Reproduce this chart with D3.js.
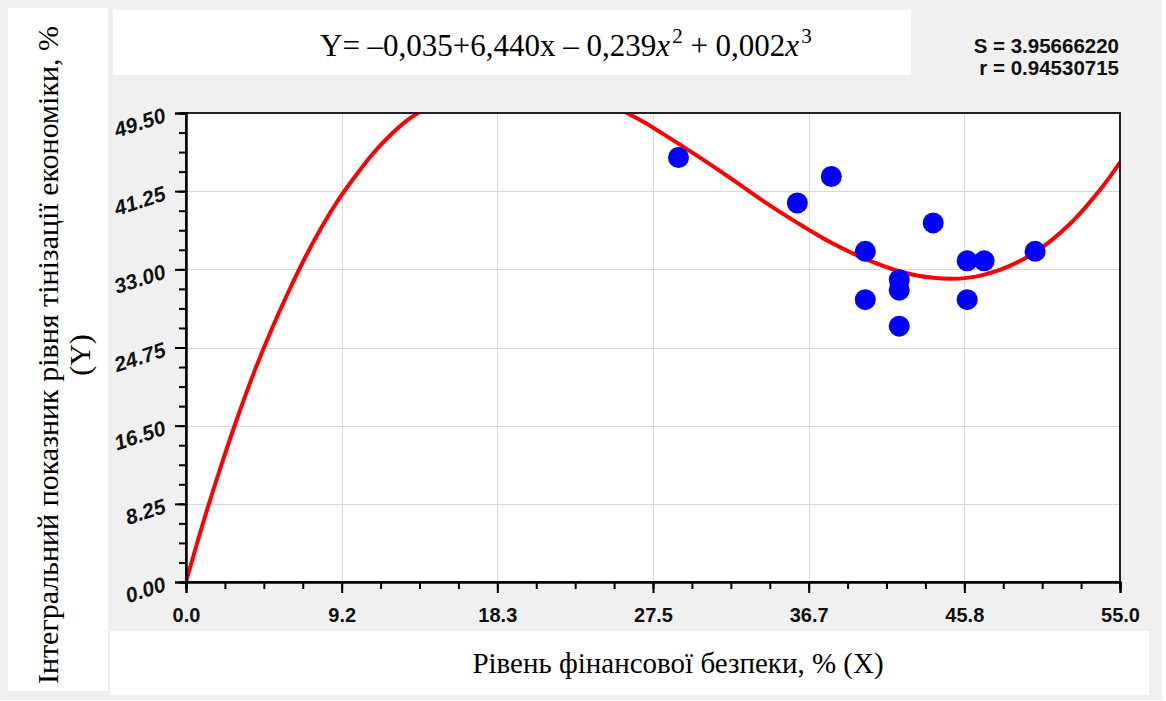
<!DOCTYPE html>
<html>
<head>
<meta charset="utf-8">
<script src="https://cdn.jsdelivr.net/npm/d3@7"></script>
<style>
  html, body { margin: 0; padding: 0; background: #ffffff; }
  svg { display: block; }
</style>
</head>
<body>
<svg id="chart" width="1166" height="701"></svg>
<script>
// ---------------- data ----------------
const pointsX = [29.0, 36.0, 38.0, 40.0, 40.0, 42.0, 42.0, 42.0, 44.0, 46.0, 47.0, 46.0, 50.0];
const pointsY = [44.8, 40.0, 42.8, 34.9, 29.8, 31.9, 30.8, 27.0, 37.9, 33.9, 33.9, 29.8, 34.9];

// fitted curve (left branch and right branch; it leaves the top of the frame between them)
const curveLeftX  = [0, 1, 2, 3, 4, 5, 6, 7, 8, 9, 10, 11, 12, 13, 13.66];
const curveLeftY  = [0, 6.2, 11.9, 17.2, 22.1, 26.5, 30.5, 34.2, 37.5, 40.4, 42.9, 45.2, 47.1, 48.7, 49.5];
const curveRightX = [25.97, 27, 28, 30, 32, 34, 36, 38, 40, 42, 44, 46, 48, 50, 52, 54, 55];
const curveRightY = [49.5, 48.5, 47.4, 45.1, 42.7, 40.2, 37.9, 35.8, 34.1, 32.8, 32.1, 32.1, 33.0, 34.8, 37.7, 41.8, 44.3];

const xTickValues = [0, 9.1667, 18.3333, 27.5, 36.6667, 45.8333, 55.0];
const xTickLabels = ["0.0", "9.2", "18.3", "27.5", "36.7", "45.8", "55.0"];
const yTickValues = [0, 8.25, 16.5, 24.75, 33.0, 41.25, 49.5];
const yTickLabels = ["0.00", "8.25", "16.50", "24.75", "33.00", "41.25", "49.50"];

const titleText = "Y= \u20130,035+6,440x \u2013 0,239";
const statS = "S = 3.95666220";
const statR = "r = 0.94530715";
const xTitle = "Рівень фінансової безпеки, % (X)";
const yTitle1 = "Інтегральний показник рівня тінізації економіки, %";
const yTitle2 = "(Y)";

// ---------------- layout ----------------
const svg = d3.select("#chart");
const W = 1166, H = 701;
const plot = { left: 186, right: 1120, top: 113, bottom: 582 };

const x = d3.scaleLinear().domain([0, 55]).range([plot.left, plot.right]);
const y = d3.scaleLinear().domain([0, 49.5]).range([plot.bottom, plot.top]);

// backgrounds
svg.append("rect").attr("x", 0).attr("y", 0).attr("width", W).attr("height", H).attr("fill", "#ffffff");
svg.append("rect").attr("x", 0).attr("y", 0).attr("width", 1162).attr("height", 700).attr("fill", "#f0f0f0");
svg.append("rect").attr("x", 8).attr("y", 8).attr("width", 100).attr("height", 683).attr("fill", "#ffffff");
svg.append("rect").attr("x", 113).attr("y", 10).attr("width", 798).attr("height", 65).attr("fill", "#ffffff");
svg.append("rect").attr("x", 110).attr("y", 631).attr("width", 1039).attr("height", 64).attr("fill", "#ffffff");

// plot background
svg.append("rect")
  .attr("x", plot.left).attr("y", plot.top)
  .attr("width", plot.right - plot.left).attr("height", plot.bottom - plot.top)
  .attr("fill", "#ffffff");

// grid
const grid = svg.append("g").attr("stroke", "#d9d9d9").attr("stroke-width", 1);
xTickValues.slice(1, -1).forEach(v => {
  grid.append("line").attr("x1", Math.round(x(v)) + 0.5).attr("x2", Math.round(x(v)) + 0.5)
    .attr("y1", plot.top).attr("y2", plot.bottom);
});
yTickValues.slice(1, -1).forEach(v => {
  grid.append("line").attr("y1", Math.round(y(v)) + 0.5).attr("y2", Math.round(y(v)) + 0.5)
    .attr("x1", plot.left).attr("x2", plot.right);
});

// clip
svg.append("clipPath").attr("id", "clip").append("rect")
  .attr("x", plot.left).attr("y", plot.top)
  .attr("width", plot.right - plot.left).attr("height", plot.bottom - plot.top);

// curve
const line = d3.line().x(d => x(d[0])).y(d => y(d[1])).curve(d3.curveCatmullRom);
const curveG = svg.append("g").attr("clip-path", "url(#clip)");
[[curveLeftX, curveLeftY], [curveRightX, curveRightY]].forEach(([xs, ys]) => {
  curveG.append("path")
    .attr("d", line(xs.map((v, i) => [v, ys[i]])))
    .attr("fill", "none").attr("stroke", "#ff0000").attr("stroke-width", 4)
    .attr("stroke-linecap", "round").attr("stroke-linejoin", "round");
});

// points
svg.append("g").selectAll("circle")
  .data(pointsX.map((v, i) => [v, pointsY[i]]))
  .join("circle")
  .attr("cx", d => x(d[0])).attr("cy", d => y(d[1])).attr("r", 10.5)
  .attr("fill", "#0000ff");

// frame (top/right)
svg.append("rect")
  .attr("x", plot.left).attr("y", plot.top)
  .attr("width", plot.right - plot.left).attr("height", plot.bottom - plot.top)
  .attr("fill", "none").attr("stroke", "#222222").attr("stroke-width", 2);

// axes
const xMinor = d3.range(0, 25).map(i => i * 55 / 24);
const yMinor = d3.range(0, 25).map(i => i * 49.5 / 24);

const xAxisMinor = d3.axisBottom(x).tickValues(xMinor).tickSize(7).tickFormat("");
const xAxisMajor = d3.axisBottom(x).tickValues(xTickValues).tickSize(11)
  .tickFormat((d, i) => xTickLabels[i]).tickPadding(15);
const yAxisMinor = d3.axisLeft(y).tickValues(yMinor).tickSize(7).tickFormat("");
const yAxisMajor = d3.axisLeft(y).tickValues(yTickValues).tickSize(11)
  .tickFormat((d, i) => yTickLabels[i]);

function styleAxis(g) {
  g.select(".domain").attr("stroke", "#000").attr("stroke-width", 2);
  g.selectAll(".tick line").attr("stroke", "#000").attr("stroke-width", 2);
}

svg.append("g").attr("transform", `translate(0,${plot.bottom})`).call(xAxisMinor).call(styleAxis);
const gx = svg.append("g").attr("transform", `translate(0,${plot.bottom})`).call(xAxisMajor).call(styleAxis);
gx.selectAll(".tick text")
  .attr("font-family", "'Liberation Sans', Arial, sans-serif")
  .attr("font-weight", "bold").attr("font-size", 20).attr("fill", "#111");

svg.append("g").attr("transform", `translate(${plot.left},0)`).call(yAxisMinor).call(styleAxis);
const gy = svg.append("g").attr("transform", `translate(${plot.left},0)`).call(yAxisMajor).call(styleAxis);
gy.selectAll(".tick text")
  .attr("font-family", "'Liberation Sans', Arial, sans-serif")
  .attr("font-weight", "bold").attr("font-style", "italic").attr("font-size", 21).attr("fill", "#111")
  .attr("x", null).attr("dy", null)
  .attr("text-anchor", "end")
  .attr("transform", "translate(-19,8) rotate(-18)");

// title formula
const t = svg.append("text")
  .attr("x", 320).attr("y", 56)
  .attr("font-family", "'Liberation Serif', 'Times New Roman', serif")
  .attr("font-size", 31).attr("fill", "#000");
t.append("tspan").text(titleText);
t.append("tspan").attr("font-style", "italic").text("x");
t.append("tspan").attr("font-size", 21).attr("dy", -13).attr("dx", 2).text("2");
t.append("tspan").attr("dy", 13).text(" + 0,002");
t.append("tspan").attr("font-style", "italic").text("x");
t.append("tspan").attr("font-size", 21).attr("dy", -13).attr("dx", 2).text("3");

// stats
const statsG = svg.append("g")
  .attr("font-family", "'Liberation Sans', Arial, sans-serif")
  .attr("font-weight", "bold").attr("font-size", 20.5).attr("fill", "#111").attr("text-anchor", "end");
statsG.append("text").attr("x", 1119).attr("y", 53).text(statS);
statsG.append("text").attr("x", 1119).attr("y", 75).text(statR);

// x title
svg.append("text")
  .attr("x", 678).attr("y", 673).attr("text-anchor", "middle")
  .attr("font-family", "'Liberation Serif', 'Times New Roman', serif")
  .attr("font-size", 29).attr("fill", "#000")
  .text(xTitle);

// y title
const yt = svg.append("g").attr("transform", "translate(58,355) rotate(-90)")
  .attr("font-family", "'Liberation Serif', 'Times New Roman', serif")
  .attr("font-size", 30).attr("fill", "#000").attr("text-anchor", "middle");
yt.append("text").attr("x", 0).attr("y", 0).text(yTitle1);
yt.append("text").attr("x", 0).attr("y", 32).text(yTitle2);
</script>
</body>
</html>
